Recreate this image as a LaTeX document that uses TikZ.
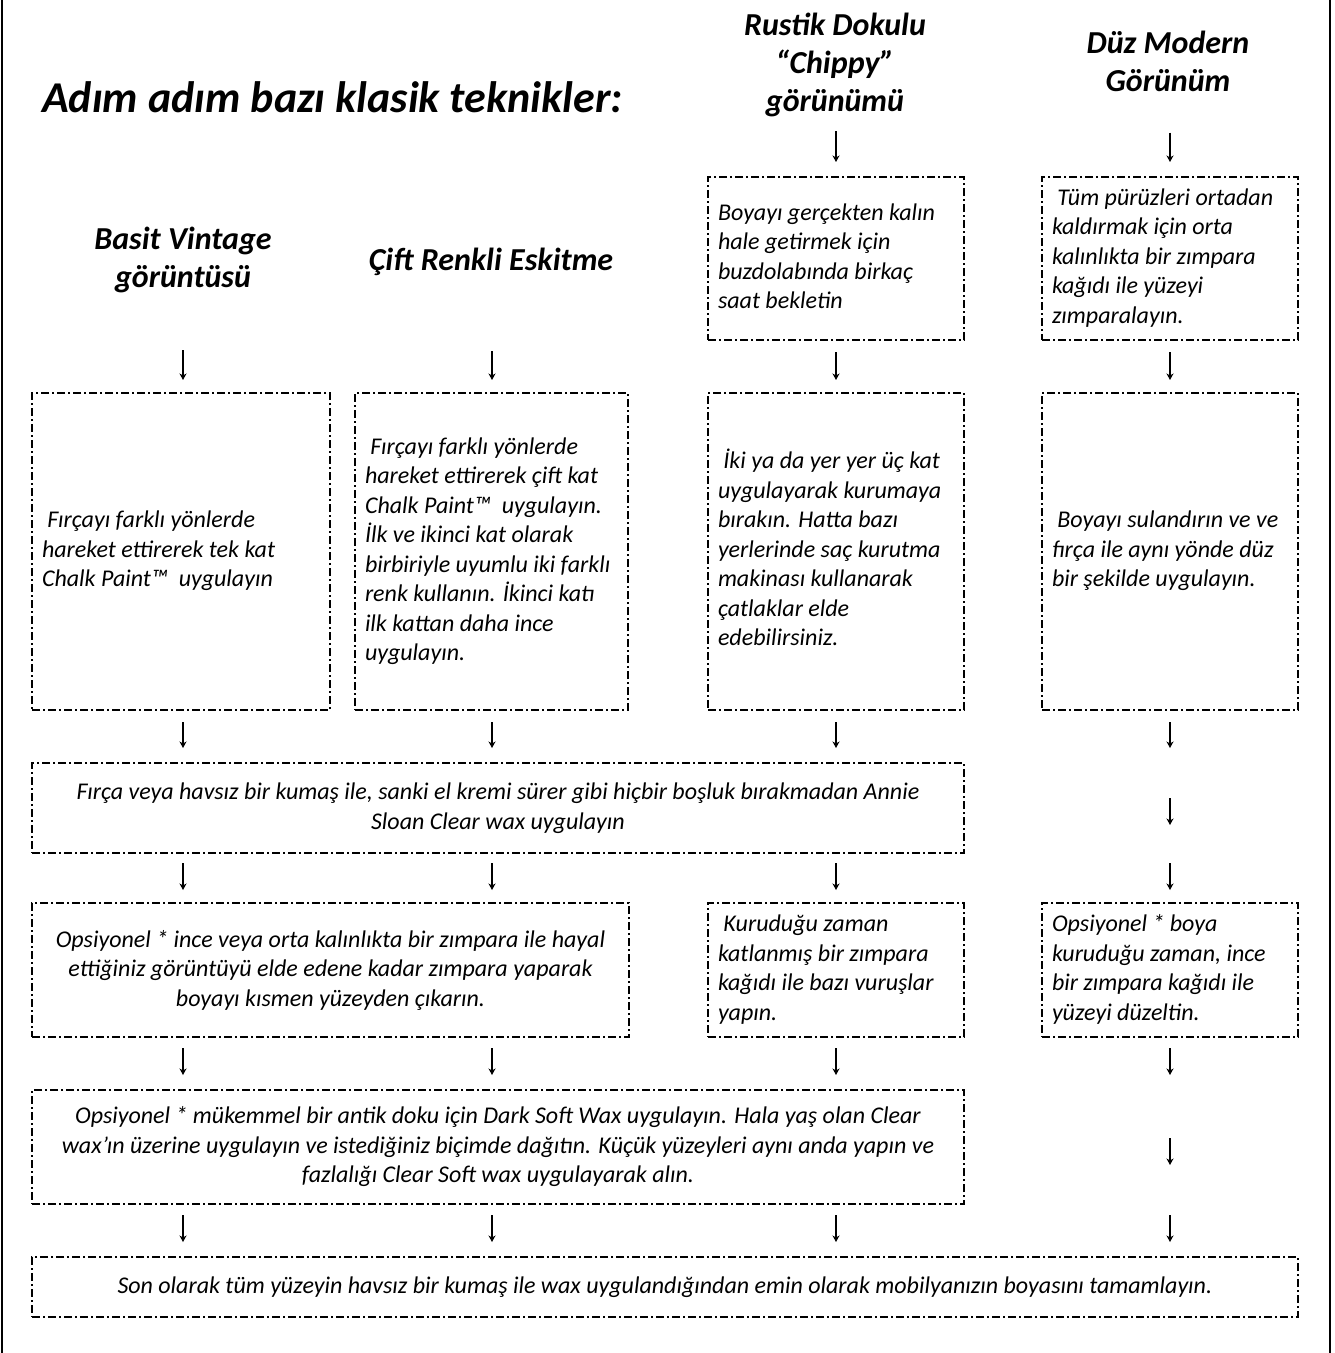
\documentclass[tikz,border=0pt]{standalone}
\usepackage{fontspec}
\setmainfont{Carlito}
\usetikzlibrary{arrows.meta}
\newcommand{\bodyfont}{\fontsize{24}{29.5}\selectfont\itshape}
\newcommand{\headfont}{\fontsize{32}{38}\selectfont\bfseries\itshape}
\newcommand{\boxlines}[1]{\spaceskip=0pt\xspaceskip=0pt\begin{tabular}{@{}l@{}}#1\end{tabular}}
\begin{document}
\begin{tikzpicture}[x=1pt,y=-1pt,
  box/.style={draw, line width=2.5pt, dash pattern=on 8pt off 3pt on 2pt off 3pt,
    inner xsep=10pt, inner ysep=0pt, outer sep=0pt, font=\bodyfont, anchor=north west},
  lbox/.style={box, align=left},
  cbox/.style={box, align=center},
  head/.style={font=\headfont, align=center, inner sep=0pt},
  arr/.style={line width=1.2pt, -{Stealth[length=6.5pt,width=7pt,inset=2pt]}}]
\useasboundingbox (0,0) rectangle (1335,1353);
% outer frame (only the sides are visible)
\draw[line width=2pt] (2,0) -- (2,1353);
\draw[line width=2pt] (1330,0) -- (1330,1353);
% column axes
\coordinate (c1) at (183,0);
\coordinate (c2) at (492,0);
\coordinate (c3) at (836,0);
\coordinate (c4) at (1170,0);
% title
\node[font=\fontsize{44}{50}\selectfont\bfseries\itshape, anchor=base west, inner sep=0pt] (title) at (42,112) {Adım adım bazı klasik teknikler:};
% headings
\node[head] (h1) at (183,260) {Basit Vintage\\görüntüsü};
\node[head] (h2) at (491,262) {Çift Renkli Eskitme};
\node[head] (h3) at (835,65) {Rustik Dokulu\\“Chippy”\\görünümü};
\node[head] (h4) at (1168,61) {Düz Modern\\Görünüm};
% first-row boxes (right columns)
\node[lbox, text width=236pt, minimum height=163pt] (ra) at (708,177)
  {\boxlines{Boyayı gerçekten kalın\\hale getirmek için\\buzdolabında birkaç\\saat bekletin}};
\node[lbox, text width=236pt, minimum height=163pt] (da) at (1042,177)
  {\boxlines{\ Tüm pürüzleri ortadan\\kaldırmak için orta\\kalınlıkta bir zımpara\\kağıdı ile yüzeyi\\zımparalayın.}};
% second-row boxes
\node[lbox, text width=278pt, minimum height=317pt] (b1) at (32,393)
  {\boxlines{\ Fırçayı farklı yönlerde\\hareket ettirerek tek kat\\Chalk Paint™\ \ uygulayın}};
\node[lbox, text width=253pt, minimum height=317pt] (b2) at (355,393)
  {\boxlines{\ Fırçayı farklı yönlerde\\hareket ettirerek çift kat\\Chalk Paint™\ \ uygulayın.\\İlk ve ikinci kat olarak\\birbiriyle uyumlu iki farklı\\renk kullanın. İkinci katı\\ilk kattan daha ince\\uygulayın.}};
\node[lbox, text width=236pt, minimum height=317pt] (b3) at (708,393)
  {\boxlines{\ İki ya da yer yer üç kat\\uygulayarak kurumaya\\bırakın. Hatta bazı\\yerlerinde saç kurutma\\makinası kullanarak\\çatlaklar elde\\edebilirsiniz.}};
\node[lbox, text width=236pt, minimum height=317pt] (b4) at (1042,393)
  {\boxlines{\ Boyayı sulandırın ve ve\\fırça ile aynı yönde düz\\bir şekilde uygulayın.}};
% wax box
\node[cbox, minimum width=932pt, minimum height=90pt] (wax) at (32,763)
  {Fırça veya havsız bir kumaş ile, sanki el kremi sürer gibi hiçbir boşluk bırakmadan Annie\\Sloan Clear wax uygulayın};
% fourth row
\node[cbox, minimum width=597pt, minimum height=134pt] (o1) at (32,903)
  {Opsiyonel * ince veya orta kalınlıkta bir zımpara ile hayal\\ettiğiniz görüntüyü elde edene kadar zımpara yaparak\\boyayı kısmen yüzeyden çıkarın.};
\node[lbox, text width=236pt, minimum height=134pt] (o3) at (708,903)
  {\boxlines{\ Kuruduğu zaman\\katlanmış bir zımpara\\kağıdı ile bazı vuruşlar\\yapın.}};
\node[lbox, text width=236pt, minimum height=134pt] (o4) at (1042,903)
  {\boxlines{Opsiyonel * boya\\kuruduğu zaman, ince\\bir zımpara kağıdı ile\\yüzeyi düzeltin.}};
% dark wax box
\node[cbox, minimum width=932pt, minimum height=114pt] (dark) at (32,1090)
  {Opsiyonel * mükemmel bir antik doku için Dark Soft Wax uygulayın. Hala yaş olan Clear\\wax’ın üzerine uygulayın ve istediğiniz biçimde dağıtın. Küçük yüzeyleri aynı anda yapın ve\\fazlalığı Clear Soft wax uygulayarak alın.};
% final box
\node[cbox, minimum width=1266pt, minimum height=60pt] (fin) at (32,1257)
  {Son olarak tüm yüzeyin havsız bir kumaş ile wax uygulandığından emin olarak mobilyanızın boyasını tamamlayın.};
% free points of the right column chains
\coordinate (d1) at (1170,748);
\coordinate (d2) at (1170,798);
\coordinate (d3) at (1170,825);
\coordinate (d4) at (1170,863);
\coordinate (e1) at (1170,1075);
\coordinate (e2) at (1170,1138);
\coordinate (e3) at (1170,1165);
\coordinate (e4) at (1170,1215);
% headings to first boxes
\draw[arr, shorten <=14pt, shorten >=15pt] (h3.south -| c3) -- (ra.north -| c3);
\draw[arr, shorten <=41pt, shorten >=15pt] (h4.south -| c4) -- (da.north -| c4);
\draw[arr, shorten <=57pt, shorten >=13pt] (h1.south -| c1) -- (b1.north -| c1);
\draw[arr, shorten <=75pt, shorten >=13pt] (h2.south -| c2) -- (b2.north -| c2);
\draw[arr, shorten <=12pt, shorten >=13pt] (ra.south -| c3) -- (b3.north -| c3);
\draw[arr, shorten <=12pt, shorten >=13pt] (da.south -| c4) -- (b4.north -| c4);
% second row to wax
\draw[arr, shorten <=12pt, shorten >=15pt] (b1.south -| c1) -- (wax.north -| c1);
\draw[arr, shorten <=12pt, shorten >=15pt] (b2.south -| c2) -- (wax.north -| c2);
\draw[arr, shorten <=12pt, shorten >=15pt] (b3.south -| c3) -- (wax.north -| c3);
\draw[arr, shorten <=12pt] (b4.south -| c4) -- (d1);
\draw[arr] (d2) -- (d3);
\draw[arr, shorten >=13pt] (d4) -- (o4.north -| c4);
% wax to fourth row
\draw[arr, shorten <=10pt, shorten >=13pt] (wax.south -| c1) -- (o1.north -| c1);
\draw[arr, shorten <=10pt, shorten >=13pt] (wax.south -| c2) -- (o1.north -| c2);
\draw[arr, shorten <=10pt, shorten >=13pt] (wax.south -| c3) -- (o3.north -| c3);
% fourth row to dark wax
\draw[arr, shorten <=11pt, shorten >=15pt] (o1.south -| c1) -- (dark.north -| c1);
\draw[arr, shorten <=11pt, shorten >=15pt] (o1.south -| c2) -- (dark.north -| c2);
\draw[arr, shorten <=11pt, shorten >=15pt] (o3.south -| c3) -- (dark.north -| c3);
\draw[arr, shorten <=11pt] (o4.south -| c4) -- (e1);
\draw[arr] (e2) -- (e3);
% dark wax to final
\draw[arr, shorten <=11pt, shorten >=15pt] (dark.south -| c1) -- (fin.north -| c1);
\draw[arr, shorten <=11pt, shorten >=15pt] (dark.south -| c2) -- (fin.north -| c2);
\draw[arr, shorten <=11pt, shorten >=15pt] (dark.south -| c3) -- (fin.north -| c3);
\draw[arr, shorten >=15pt] (e4) -- (fin.north -| c4);
\end{tikzpicture}
\end{document}
